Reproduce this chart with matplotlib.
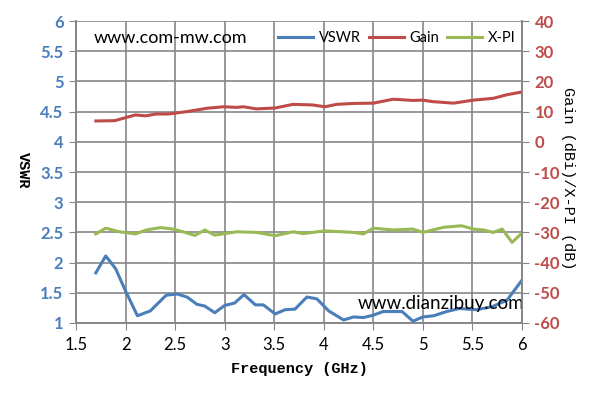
import matplotlib.pyplot as plt
import numpy as np

plt.rcParams['axes.unicode_minus'] = False

# VSWR (left axis)
f_vswr = [1.70, 1.80, 1.90, 2.00, 2.12, 2.25, 2.41, 2.52, 2.62, 2.72, 2.80, 2.90, 3.00,
          3.10, 3.195, 3.31, 3.39, 3.51, 3.61, 3.71, 3.83, 3.93, 4.05, 4.20, 4.30, 4.40,
          4.50, 4.60, 4.79, 4.90, 5.00, 5.11, 5.24, 5.37, 5.54, 5.70, 5.85, 6.00]
vswr = [1.83, 2.11, 1.90, 1.53, 1.12, 1.20, 1.46, 1.48, 1.43, 1.31, 1.28, 1.17, 1.29,
        1.33, 1.47, 1.30, 1.30, 1.15, 1.22, 1.23, 1.43, 1.40, 1.20, 1.05, 1.10, 1.09,
        1.13, 1.19, 1.19, 1.03, 1.10, 1.12, 1.19, 1.24, 1.22, 1.27, 1.38, 1.71]

# Gain (right axis)
f_gain = [1.70, 1.89, 2.10, 2.20, 2.31, 2.43, 2.62, 2.82, 2.99, 3.12, 3.19, 3.32, 3.51,
          3.69, 3.89, 4.01, 4.13, 4.30, 4.50, 4.70, 4.90, 5.00, 5.10, 5.31, 5.51, 5.71,
          5.85, 6.00]
gain = [6.9, 7.0, 8.9, 8.6, 9.2, 9.2, 10.0, 11.1, 11.6, 11.4, 11.6, 10.9, 11.2,
        12.4, 12.2, 11.6, 12.4, 12.7, 12.8, 14.1, 13.7, 13.8, 13.3, 12.8, 13.8, 14.4,
        15.6, 16.5]

# X-PI (right axis)
f_xpi = [1.70, 1.80, 1.94, 2.10, 2.21, 2.35, 2.48, 2.60, 2.70, 2.80, 2.90, 3.12, 3.32,
         3.51, 3.69, 3.79, 4.01, 4.30, 4.40, 4.50, 4.70, 4.90, 5.00, 5.21, 5.39, 5.51,
         5.61, 5.71, 5.80, 5.90, 6.00]
xpi = [-30.5, -28.6, -29.8, -30.5, -29.2, -28.4, -28.9, -30.0, -31.0, -29.2, -30.9,
       -29.8, -30.0, -31.1, -29.8, -30.4, -29.5, -30.0, -30.5, -28.6, -29.2, -28.9,
       -30.0, -28.3, -27.8, -28.9, -29.2, -30.0, -28.9, -33.3, -30.2]

c_vswr = '#4a7ebb'
c_gain = '#be4b48'
c_xpi = '#98b954'
sans = 'Lato'
mono = 'Liberation Mono'

fig = plt.figure(figsize=(5.95, 4.04), dpi=100)
ax = fig.add_axes([0.1277, 0.2005, 0.7496, 0.7475])
ax2 = ax.twinx()

l1, = ax.plot(f_vswr, vswr, color=c_vswr, lw=2.2, label='VSWR')
l2, = ax2.plot(f_gain, gain, color=c_gain, lw=2.2, label='Gain')
l3, = ax2.plot(f_xpi, xpi, color=c_xpi, lw=2.2, label='X-PI')

ax.set_xlim(1.5, 6)
ax.set_ylim(1, 6)
ax2.set_ylim(-60, 40)
ax.set_xticks(np.arange(1.5, 6.01, 0.5))
ax.set_xticklabels(['1.5', '2', '2.5', '3', '3.5', '4', '4.5', '5', '5.5', '6'])
ax.set_yticks(np.arange(1, 6.01, 0.5))
ax.set_yticklabels(['1', '1.5', '2', '2.5', '3', '3.5', '4', '4.5', '5', '5.5', '6'])
ax2.set_yticks(np.arange(-60, 41, 10))

ax.grid(True, color='#868686', lw=1.2)
for a in (ax, ax2):
    a.spines['top'].set_visible(False)
    for s in ('left', 'right', 'bottom'):
        a.spines[s].set_color('#868686')
        a.spines[s].set_linewidth(1.2)

ax.tick_params(axis='x', colors='#868686', labelcolor='black', labelsize=12, length=5, pad=5)
ax.tick_params(axis='y', colors='#868686', labelcolor=c_vswr, labelsize=12, length=5, pad=4)
ax2.tick_params(axis='y', colors='#868686', labelcolor=c_gain, labelsize=12, length=5, pad=4)
for t in ax.get_xticklabels():
    t.set_family(sans)
for t in ax.get_yticklabels() + ax2.get_yticklabels():
    t.set_family(sans)
    t.set_fontweight('bold')

ax.set_xlabel('Frequency (GHz)', family=mono, fontweight='bold', fontsize=11)
ax.xaxis.set_label_coords(0.5, -0.13)
ax.set_ylabel('VSWR', family=mono, fontweight='bold', fontsize=11, rotation=-90,
              va='center', ha='center')
ax.yaxis.set_label_coords(-0.119, 0.505)
ax2.set_ylabel('Gain (dBi)/X-PI (dB)', family=mono, fontsize=11, rotation=-90,
               va='center', ha='center')
ax2.yaxis.set_label_coords(1.103, 0.48)

ax.text(0.04, 0.944, 'www.com-mw.com', transform=ax.transAxes, fontsize=13,
        family=sans, va='center', ha='left')
ax.text(0.632, 0.065, 'www.dianzibuy.com', transform=ax.transAxes, fontsize=13.5,
        family=sans, va='center', ha='left')

ax.legend(handles=[l1, l2, l3], loc='center left', bbox_to_anchor=(0.453, 0.944),
          ncol=3, frameon=False, prop={'family': sans, 'size': 10.5}, handlelength=2.4,
          columnspacing=0.55, handletextpad=0.4, borderpad=0, borderaxespad=0)

fig.savefig('out.png', dpi=100)
